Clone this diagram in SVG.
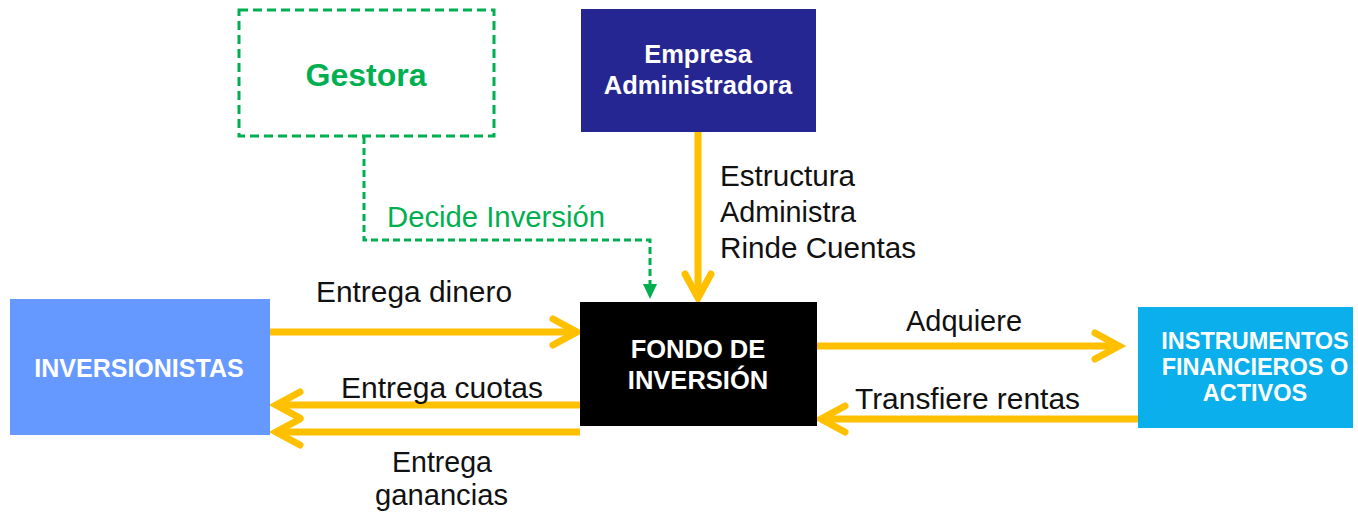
<svg xmlns="http://www.w3.org/2000/svg" width="1358" height="516" viewBox="0 0 1358 516">
<style>
.lbl{font-family:"Liberation Sans",Arial,sans-serif;font-size:29px;fill:#111}
.bw{font-family:"Liberation Sans",Arial,sans-serif;font-weight:bold;fill:#fff;text-anchor:middle}
.y{stroke:#FFC000;stroke-width:7;fill:none}
.g{stroke:#00B050;stroke-width:3;fill:none;stroke-dasharray:7 4}
</style>
<defs>
<marker id="chev" markerUnits="userSpaceOnUse" markerWidth="40" markerHeight="40" viewBox="-30 -20 40 40" refX="0" refY="0" orient="auto">
<path d="M-24,-13 L0,0 L-24,13" fill="none" stroke="#FFC000" stroke-width="7" stroke-linecap="round" stroke-linejoin="miter"/>
</marker>
</defs>
<rect width="1358" height="516" fill="#fff"/>
<g id="connectors">
<path class="g" d="M364,137 V240 H650 V284"/>
<path d="M643,284 L657,284 L650,299 Z" fill="#00B050"/>
<line class="y" x1="698" y1="132" x2="698" y2="298" marker-end="url(#chev)"/>
<line class="y" x1="270" y1="332" x2="577" y2="332" marker-end="url(#chev)"/>
<line class="y" x1="580" y1="405" x2="276" y2="405" marker-end="url(#chev)"/>
<line class="y" x1="580" y1="432" x2="276" y2="432" marker-end="url(#chev)"/>
<line class="y" x1="817" y1="346" x2="1119" y2="346" marker-end="url(#chev)"/>
<line class="y" x1="1138" y1="419" x2="821" y2="419" marker-end="url(#chev)"/>
<text class="lbl" x="387" y="227" style="fill:#00B050" textLength="218" lengthAdjust="spacingAndGlyphs">Decide Inversión</text>
<text class="lbl" x="720" y="186" textLength="135" lengthAdjust="spacingAndGlyphs">Estructura</text>
<text class="lbl" x="720" y="222" textLength="136" lengthAdjust="spacingAndGlyphs">Administra</text>
<text class="lbl" x="720" y="258" textLength="196" lengthAdjust="spacingAndGlyphs">Rinde Cuentas</text>
<text class="lbl" x="316" y="302" textLength="196" lengthAdjust="spacingAndGlyphs">Entrega dinero</text>
<text class="lbl" x="341" y="398" textLength="202" lengthAdjust="spacingAndGlyphs">Entrega cuotas</text>
<text class="lbl" x="392" y="472" textLength="100" lengthAdjust="spacingAndGlyphs">Entrega</text>
<text class="lbl" x="375" y="505" textLength="133" lengthAdjust="spacingAndGlyphs">ganancias</text>
<text class="lbl" x="906" y="331" textLength="116" lengthAdjust="spacingAndGlyphs">Adquiere</text>
<text class="lbl" x="855" y="409" textLength="225" lengthAdjust="spacingAndGlyphs">Transfiere rentas</text>
</g>
<g id="gestora">
<rect x="239" y="10" width="255" height="126" fill="none" stroke="#00B050" stroke-width="3" stroke-dasharray="9 5"/>
<text x="366" y="86" font-family="Liberation Sans, Arial, sans-serif" font-weight="bold" font-size="32" fill="#00B050" text-anchor="middle">Gestora</text>
</g>
<g id="empresa">
<rect x="581" y="9" width="235" height="123" fill="#262693"/>
<text class="bw" font-size="25.5" x="698" y="63">Empresa</text>
<text class="bw" font-size="25.5" x="698" y="94">Administradora</text>
</g>
<g id="fondo">
<rect x="580" y="302" width="237" height="124" fill="#000"/>
<text class="bw" font-size="25.5" x="698" y="358">FONDO DE</text>
<text class="bw" font-size="25.5" x="698" y="389">INVERSIÓN</text>
</g>
<g id="inversionistas">
<rect x="10" y="299" width="260" height="136" fill="#6699FF"/>
<text class="bw" font-size="25" x="139" y="377">INVERSIONISTAS</text>
</g>
<g id="instrumentos">
<rect x="1138" y="307" width="215" height="121" fill="#0AAFEB"/>
<text class="bw" font-size="23.5" x="1255" y="349">INSTRUMENTOS</text>
<text class="bw" font-size="23.5" x="1255" y="375">FINANCIEROS O</text>
<text class="bw" font-size="23.5" x="1255" y="401">ACTIVOS</text>
</g>
</svg>
